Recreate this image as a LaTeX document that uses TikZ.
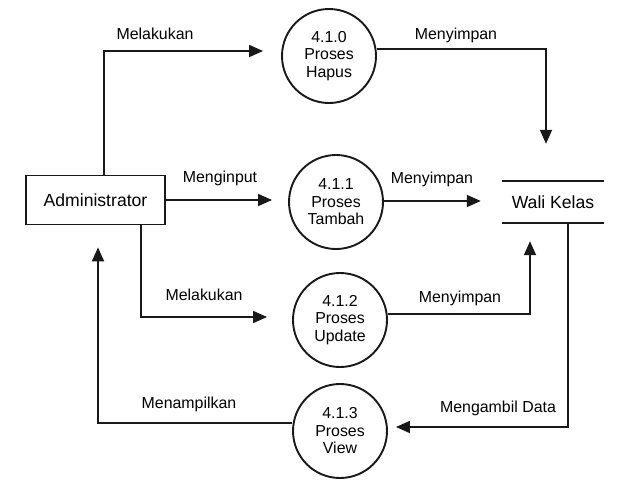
\documentclass[tikz,border=0pt]{standalone}
\usepackage{fontspec}
\setmainfont{Liberation Sans}
\usetikzlibrary{arrows.meta,calc}
\begin{document}
\begin{tikzpicture}[x=1pt,y=-1pt,
  line/.style={line width=1.8pt,draw=black!90},
  arr/.style={line,-{Triangle[length=14pt,width=12pt]}},
  proc/.style={circle,draw=black!90,line width=1.9pt,minimum size=94pt,inner sep=0pt,align=center,
     font=\fontsize{15.9}{17.5}\selectfont},
  lbl/.style={anchor=base,inner sep=0pt,font=\fontsize{15.9}{18}\selectfont},
]
\useasboundingbox (0,0) rectangle (634,491);
\fill[white] (0,0) rectangle (634,491);
% nodes
\node[draw=black!90,line width=1.8pt,minimum width=139pt,minimum height=49pt,inner sep=0pt,
      font=\fontsize{17.6}{20}\selectfont] (admin) at (95.5,200) {Administrator};
\node[proc] (hapus) at (329,56) {4.1.0\\Proses\\Hapus};
\node[proc] (tambah) at (336,202) {4.1.1\\Proses\\Tambah};
\node[proc] (update) at (340,320) {4.1.2\\Proses\\Update};
\node[proc] (view) at (340,431) {4.1.3\\Proses\\View};
\node[minimum width=102pt,minimum height=42pt,inner sep=0pt,
      font=\fontsize{17.6}{20}\selectfont] (wali) at (553,202) {Wali Kelas};
\draw[line] (wali.north west) -- (wali.north east);
\draw[line] (wali.south west) -- (wali.south east);
% connectors
\draw[arr,shorten >=18pt] ([xshift=8.5pt]admin.north) |- ([yshift=5pt]hapus.west);
\draw[arr,shorten >=16pt] (admin.east) -- (admin.east -| tambah.west);
\draw[arr,shorten >=25pt] ([xshift=45.5pt]admin.south) |- ([yshift=3pt]update.west);
\draw[arr,shorten >=37pt] ([yshift=7pt]hapus.east) -| ([xshift=-7pt]wali.north);
\draw[arr,shorten >=21pt] ([yshift=1pt]tambah.east) -- ([yshift=1pt]tambah.east -| wali.west);
\draw[arr,shorten >=18pt] ([yshift=6pt]update.east) -| ([xshift=-23pt]wali.south);
\draw[arr,shorten >=8pt] ([xshift=15pt]wali.south) |- ([yshift=4pt]view.east);
\draw[arr,shorten >=22pt] ([yshift=8pt]view.west) -| ([xshift=2.5pt]admin.south);
% labels
\node[lbl] (l1) at (155,39) {Melakukan};
\node[lbl] (l2) at (220,182) {Menginput};
\node[lbl] (l3) at (456,39) {Menyimpan};
\node[lbl] (l4) at (432,183) {Menyimpan};
\node[lbl] (l5) at (460,302) {Menyimpan};
\node[lbl] (l6) at (204,300) {Melakukan};
\node[lbl] (l7) at (189,408) {Menampilkan};
\node[lbl] (l8) at (498,412) {Mengambil Data};
\end{tikzpicture}
\end{document}
